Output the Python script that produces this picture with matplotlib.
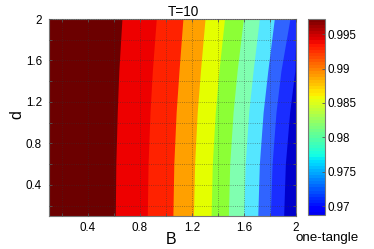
import matplotlib
matplotlib.use("Agg")
import numpy as np
import matplotlib.pyplot as plt
from matplotlib import colors, cm

plt.rcParams['font.family'] = ['Liberation Sans', 'DejaVu Sans']

d_rows = [0.1, 0.6, 1.1, 1.5, 2.0]

# B position of each contour edge (left -> right), one list per edge, along d_rows
edge_1 = [0.610, 0.614, 0.625, 0.637, 0.661]
edge_2 = [0.856, 0.862, 0.877, 0.895, 0.925]
edge_3 = [1.053, 1.060, 1.078, 1.100, 1.130]
edge_4 = [1.211, 1.220, 1.240, 1.265, 1.300]
edge_5 = [1.347, 1.356, 1.379, 1.407, 1.450]
edge_6 = [1.480, 1.490, 1.516, 1.547, 1.595]
edge_7 = [1.598, 1.609, 1.636, 1.670, 1.718]
edge_8 = [1.706, 1.718, 1.747, 1.783, 1.833]
edge_9 = [1.803, 1.816, 1.846, 1.884, 1.953]
edge_10 = [1.905, 1.918, 1.951, 1.991, 2.000]

band_colors = ['#6c0000', '#ee0000', '#ff2200', '#ffa000', '#e4ff00', '#8cff36',
               '#80ffb0', '#55e6ff', '#3064ff', '#1a2dff', '#0000cc']

B_range = [0.1, 2.0]
d_range = [0.1, 2.0]
tick_vals = [0.4, 0.8, 1.2, 1.6, 2.0]
tick_labels = ['0.4', '0.8', '1.2', '1.6', '2']
minor_vals = [0.2, 0.6, 1.0, 1.4, 1.8]

cbar_lim = [0.9687, 0.9972]
cbar_ticks = [0.97, 0.975, 0.98, 0.985, 0.99, 0.995]
cbar_labels = ['0.97', '0.975', '0.98', '0.985', '0.99', '0.995']

W, H = 374, 249
fig = plt.figure(figsize=(W / 100, H / 100), dpi=100)
ax = fig.add_axes([49 / W, 33 / H, 247 / W, 197 / H])
cax = fig.add_axes([308 / W, 34 / H, 17 / W, 196 / H])

edges = [edge_1, edge_2, edge_3, edge_4, edge_5, edge_6, edge_7, edge_8, edge_9, edge_10]
# each band runs from its left edge to the right border, later bands cover the rest
for k, c in enumerate(band_colors):
    left = B_range[0] if k == 0 else edges[k - 1]
    ax.fill_betweenx(d_rows, left, B_range[1], color=c, lw=0)

ax.set_xlim(B_range)
ax.set_ylim(d_range)
ax.set_xticks(tick_vals)
ax.set_xticklabels(tick_labels)
ax.set_yticks(tick_vals)
ax.set_yticklabels(tick_labels)
ax.set_xticks(minor_vals, minor=True)
ax.set_yticks(minor_vals, minor=True)
ax.tick_params(which='both', direction='in', length=2.5, width=0.6, color='#555555',
               top=True, right=True, labelsize=8.4)
ax.tick_params(axis='x', pad=4)
ax.tick_params(axis='y', pad=5)
ax.set_axisbelow(False)
ax.grid(True, which='both', ls=':', color='#333333', lw=0.6, alpha=0.55)
for s in ax.spines.values():
    s.set_color('#777777')
    s.set_linewidth(0.8)

ax.set_title('T=10', fontsize=9.8, x=0.543, pad=2)
fig.text(171.5 / W, 1 - 239 / H, 'B', ha='center', va='center', fontsize=11.5)
fig.text(17 / W, 1 - 115 / H, 'd', ha='center', va='center', rotation=90, fontsize=11.5)

# jet, trimmed at the blue end like the reference bar
bar_cmap = colors.ListedColormap(plt.get_cmap('jet')(np.linspace(0.1, 1.0, 64)))
sm = cm.ScalarMappable(norm=colors.Normalize(*cbar_lim), cmap=bar_cmap)
cb = fig.colorbar(sm, cax=cax)
cb.set_ticks(cbar_ticks)
cb.set_ticklabels(cbar_labels)
cb.ax.tick_params(direction='in', length=2.5, width=0.6, color='#555555',
                  labelsize=8.4, pad=2)
cb.outline.set_edgecolor('#777777')
cb.outline.set_linewidth(0.8)
fig.text(295 / W, 1 - 241 / H, 'one-tangle', ha='left', va='baseline', fontsize=9.6)

fig.savefig('out.png', dpi=100)
